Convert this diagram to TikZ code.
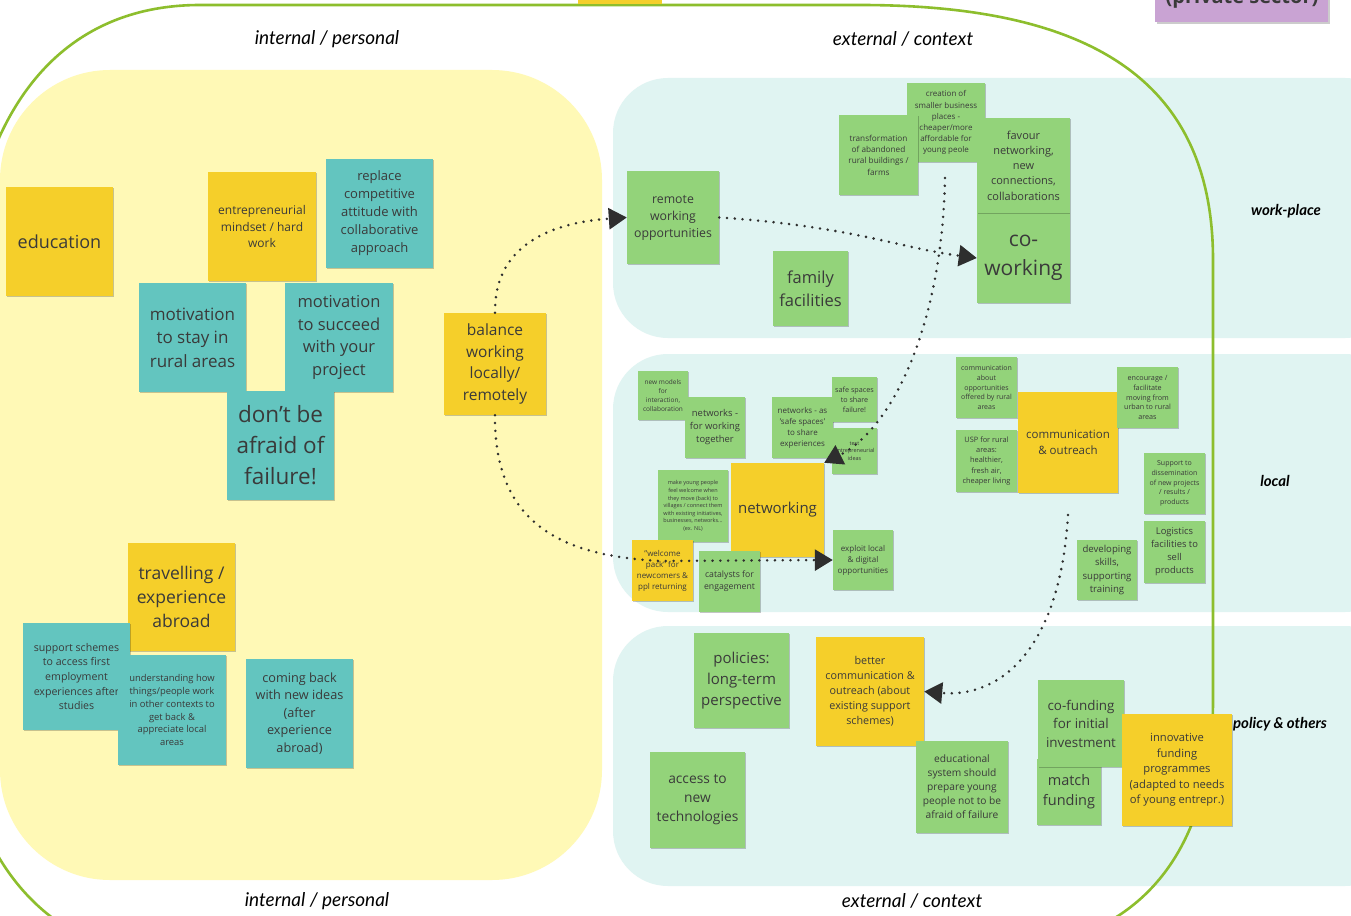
\documentclass[tikz,border=0pt]{standalone}
\usepackage{fontspec}
\setmainfont{Open Sans}
\newfontfamily\handfont{Lato}
\usetikzlibrary{arrows.meta,shadows}
\definecolor{yellowbg}{HTML}{FFF9B6}
\definecolor{cyanbg}{HTML}{E0F4F2}
\definecolor{ynotec}{HTML}{F5CF2A}
\definecolor{tnotec}{HTML}{63C5BF}
\definecolor{gnotec}{HTML}{93D37A}
\definecolor{glinec}{HTML}{8DBE2D}
\definecolor{purplec}{HTML}{C9A3D3}
\definecolor{txtc}{HTML}{3A3A3A}
\definecolor{arrc}{HTML}{2E2E2E}
\newcommand\stickynote[8]{%
  \pgfmathsetmacro\snw{#5-(#3)}%
  \pgfmathsetmacro\snh{#6-(#4)}%
  \pgfmathsetmacro\snx{(#3+#5)/2}%
  \pgfmathsetmacro\sny{(#4+#6)/2}%
  \pgfmathsetmacro\snl{#7*1.38}%
  \node[#1, minimum width=\snw pt, minimum height=\snh pt, font=\fontsize{#7}{\snl}\selectfont] (#2) at (\snx,\sny) {#8};}
\begin{document}
\begin{tikzpicture}[x=1pt,y=-1pt,
  note/.style={rectangle, inner sep=1pt, align=center, text=txtc,
    drop shadow={shadow xshift=1.2pt, shadow yshift=-1.2pt, fill=black, opacity=0.22}},
  ynote/.style={note, fill=ynotec},
  tnote/.style={note, fill=tnotec},
  gnote/.style={note, fill=gnotec},
  header/.style={font=\handfont\itshape\fontsize{19}{22}\selectfont, text=black},
  sidelabel/.style={font=\handfont\bfseries\itshape\fontsize{15}{18}\selectfont, text=black},
  conn/.style={draw=arrc, line width=2.8pt, line cap=round, dash pattern=on 0pt off 7.8pt,
    -{Triangle[length=18pt,width=21pt,line cap=butt]}},
]
\useasboundingbox (0,0) rectangle (1351,915);
\clip (0,0) rectangle (1351,915);
\fill[white] (0,0) rectangle (1351,915);
% regions
\fill[cyanbg, rounded corners=55pt] (613,78) rectangle (1400,338);
\fill[cyanbg, rounded corners=55pt] (613,354) rectangle (1400,612);
\fill[cyanbg, rounded corners=55pt] (613,626) rectangle (1400,886);
\fill[yellowbg, rounded corners=110pt] (0,70) rectangle (602,880);
% outline
\draw[glinec, line width=2.6pt] (-40,360) .. controls (-40,110) and (60,5) .. (200,5) -- (860,5)
  .. controls (1090,5) and (1213,80) .. (1213,260) -- (1213,700)
  .. controls (1213,830) and (1160,905) .. (1080,935);
\draw[glinec, line width=2.6pt] (-40,360) -- (-40,700) .. controls (-40,830) and (20,905) .. (80,935);
% cut-off notes at top
\fill[ynotec] (578,-5) rectangle (662,4);
\node[coordinate] (topyellow) at (620,0) {};
\fill[black, opacity=0.2] (1157,-5) rectangle (1330,24);
\fill[purplec] (1155,-5) rectangle (1328,22);
\node[anchor=base, font=\bfseries\fontsize{20}{24}\selectfont, text=txtc] (privsec) at (1242,4) {(private sector)};
% headers
\node[header] (h1) at (327,39) {internal / personal};
\node[header] (h2) at (903,39) {external / context};
\node[header] (h3) at (317,901) {internal / personal};
\node[header] (h4) at (912,901) {external / context};
\node[sidelabel] (l1) at (1286,211) {work-place};
\node[sidelabel] (l2) at (1275,481) {local};
\node[sidelabel] (l3) at (1280,724) {policy \& others};
% left notes
\stickynote{ynote}{educ}{6}{187}{113}{296}{18}{education}
\stickynote{ynote}{ent}{208}{172}{316}{281}{12}{entrepreneurial\\mindset / hard\\work}
\stickynote{tnote}{rep}{326}{159}{433}{268}{13}{replace\\competitive\\attitude with\\collaborative\\approach}
\stickynote{tnote}{mstay}{139}{283}{246}{392}{17}{motivation\\to stay in\\rural areas}
\stickynote{tnote}{msuc}{285}{283}{393}{392}{16.5}{motivation\\to succeed\\with your\\project}
\stickynote{tnote}{dont}{227}{391}{334}{500}{22.5}{don't be\\afraid of\\failure!}
\stickynote{ynote}{bal}{444}{313}{546}{415}{15.5}{balance\\working\\locally/\\remotely}
\stickynote{ynote}{trav}{128}{543}{235}{651}{17.5}{travelling /\\experience\\abroad}
\stickynote{tnote}{sup}{23}{623}{130}{730}{10.6}{support schemes\\to access first\\employment\\experiences after\\studies}
\stickynote{tnote}{und}{118}{655}{226}{765}{9.4}{understanding how\\things/people work\\in other contexts to\\get back \&\\appreciate local\\areas}
\stickynote{tnote}{come}{246}{659}{353}{768}{12.7}{coming back\\with new ideas\\(after\\experience\\abroad)}
% work-place
\stickynote{gnote}{rem}{627}{171}{719}{264}{12.3}{remote\\working\\opportunities}
\stickynote{gnote}{crea}{907}{83}{985}{162}{8}{creation of\\smaller business\\places -\\cheaper/more\\affordable for\\young peole}
\stickynote{gnote}{trans}{839}{115}{918}{195}{8.2}{transformation\\of abandoned\\rural buildings /\\farms}
\stickynote{gnote}{cow}{977}{213}{1070}{303}{21}{co-\\working}
\stickynote{gnote}{fav}{977}{118}{1070}{213}{11}{favour\\networking,\\new\\connections,\\collaborations}
\stickynote{gnote}{fam}{773}{251}{848}{326}{16.5}{family\\facilities}
% local
\stickynote{gnote}{newm}{638}{371}{688}{420}{6.5}{new models\\for\\interaction,\\collaboration}
\stickynote{gnote}{netw}{685}{397}{745}{458}{9.4}{networks -\\for working\\together}
\stickynote{gnote}{neta}{772}{397}{833}{458}{8}{networks - as\\'safe spaces'\\to share\\experiences}
\stickynote{gnote}{safe}{832}{377}{877}{422}{7.2}{safe spaces\\to share\\failure!}
\stickynote{gnote}{test}{832}{428}{877}{474}{5.5}{test\\entrepreneurial\\ideas}
\stickynote{gnote}{make}{658}{470}{728}{542}{5.5}{make young people\\feel welcome when\\they move (back) to\\villages / connect them\\with existing initiatives,\\businesses, networks...\\(ex. NL)}
\stickynote{ynote}{netk}{731}{463}{824}{557}{15}{networking}
\stickynote{ynote}{welc}{632}{540}{693}{601}{8}{"welcome\\pack" for\\newcomers \&\\ppl returning}
\stickynote{gnote}{cat}{699}{551}{760}{612}{8.7}{catalysts for\\engagement}
\stickynote{gnote}{expl}{833}{530}{893}{590}{8}{exploit local\\\& digital\\opportunities}
\stickynote{gnote}{comm}{956}{357}{1017}{418}{7}{communication\\about\\opportunities\\offered by rural\\areas}
\stickynote{gnote}{usp}{956}{430}{1017}{492}{7.4}{USP for rural\\areas:\\healthier,\\fresh air,\\cheaper living}
\stickynote{ynote}{commo}{1018}{392}{1118}{493}{11.5}{communication\\\& outreach}
\stickynote{gnote}{enc}{1117}{367}{1178}{428}{7.2}{encourage /\\facilitate\\moving from\\urban to rural\\areas}
\stickynote{gnote}{supd}{1144}{453}{1205}{514}{7}{Support to\\dissemination\\of new projects\\/ results /\\products}
\stickynote{gnote}{logi}{1144}{521}{1205}{583}{9.4}{Logistics\\facilities to\\sell\\products}
\stickynote{gnote}{dev}{1077}{540}{1137}{600}{9.6}{developing\\skills,\\supporting\\training}
% policy
\stickynote{gnote}{pol}{694}{633}{789}{728}{15}{policies:\\long-term\\perspective}
\stickynote{ynote}{bet}{816}{637}{924}{746}{10.8}{better\\communication \&\\outreach (about\\existing support\\schemes)}
\stickynote{gnote}{edus}{916}{741}{1008}{833}{10.2}{educational\\system should\\prepare young\\people not to be\\afraid of failure}
\stickynote{gnote}{acc}{650}{752}{745}{848}{13.8}{access to\\new\\technologies}
\stickynote{gnote}{match}{1037}{759}{1101}{825}{14.5}{match\\funding}
\stickynote{gnote}{cof}{1038}{680}{1124}{767}{13.4}{co-funding\\for initial\\investment}
\stickynote{ynote}{inno}{1122}{714}{1232}{826}{11.2}{innovative\\funding\\programmes\\(adapted to needs\\of young entrepr.)}
% connectors
\coordinate (cstart) at (945,178);
\coordinate (estart) at (1068,515);
\draw[conn] (bal.north) .. controls (494,240) and (560,222) .. (rem.west);
\draw[conn] (bal.south) .. controls (494,530) and (570,556) .. (660,561) -- (expl.west);
\draw[conn] (rem.east) .. controls (850,226) and (900,248) .. (cow.west);
\draw[conn] (cstart) .. controls (942,330) and (890,430) .. (netk.north east);
\draw[conn] (estart) .. controls (1060,650) and (1000,698) .. (bet.east);
\end{tikzpicture}
\end{document}
